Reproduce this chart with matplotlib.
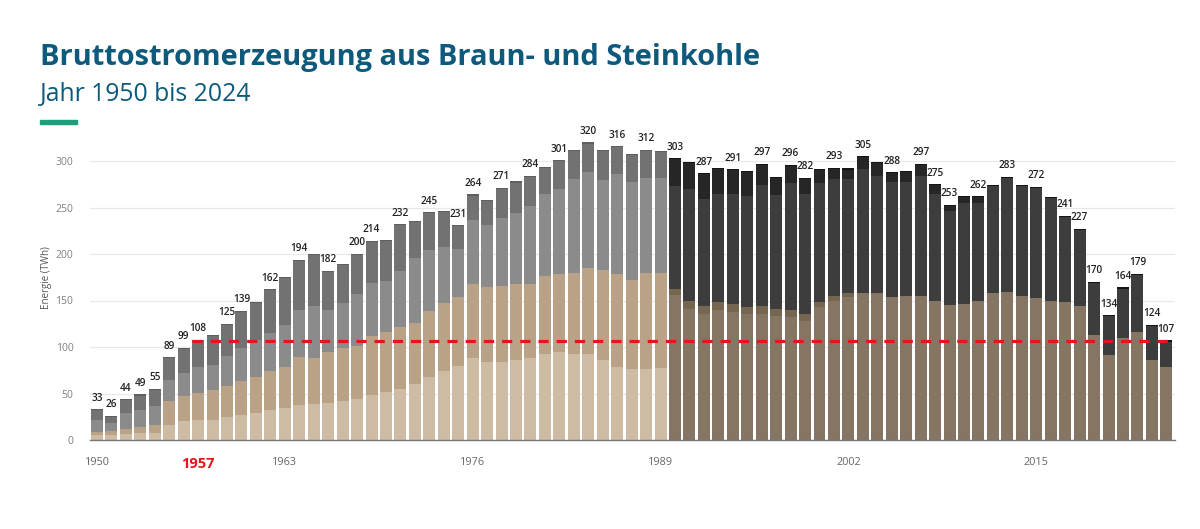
import matplotlib
matplotlib.use("Agg")
import matplotlib.pyplot as plt
import numpy as np

years = list(range(1950, 2025))

# Segment values (TWh), bottom to top
braun_a = [5, 5, 6, 7, 8, 16, 20, 21, 22, 25, 27, 29, 32, 34, 38, 39, 40, 42, 44, 48,
           52, 55, 60, 68, 74, 80, 88, 84, 84, 86, 88, 93, 95, 93, 93, 86, 79, 76, 76, 77,
           156, 141, 136, 140, 138, 135, 136, 133, 132, 128, 143, 150, 154, 158, 158, 154, 155, 155, 150, 145,
           146, 149, 158, 159, 155, 153, 149, 148, 144, 113, 91, 110, 116, 86, 78]
braun_b = [3.5, 5, 6, 7, 8, 26, 27, 30, 32, 33, 36, 39, 42, 45, 51, 49, 55, 57, 57, 64,
           64, 66, 66, 71, 73, 74, 80, 80, 82, 82, 80, 83, 83, 87, 92, 97, 100, 96, 104, 103,
           6, 8, 8, 8, 8, 8, 8, 8, 8, 8, 5, 5, 4, 0, 0, 0, 0, 0, 0, 0,
           0, 0, 0, 0, 0, 0, 0, 0, 0, 0, 0, 0, 0, 0, 0]
stein_c = [13.5, 8, 17, 18, 21, 23, 25, 27, 27, 32, 36, 39, 41, 45, 51, 56, 45, 48, 56, 57,
           55, 61, 70, 65, 61, 51, 69, 67, 73, 76, 84, 88, 92, 101, 103, 97, 107, 105, 102, 102,
           111, 121, 115, 116, 118, 119, 130, 122, 136, 128, 128, 126, 123, 133, 126, 123, 122, 129, 115, 101,
           109, 106, 116, 124, 119, 119, 112, 93, 83, 57, 43, 54, 63, 38, 29]
stein_d = [11, 8, 15, 17, 18, 24, 27, 30, 32, 35, 40, 41, 47, 51, 54, 56, 42, 42, 43, 45,
           44, 50, 40, 41, 38, 26, 27, 27, 32, 34, 32, 30, 31, 31, 32, 32, 30, 31, 30, 29,
           30, 29, 28, 29, 27, 27, 23, 20, 20, 18, 15, 12, 11, 14, 15, 11, 12, 13, 10, 7,
           7, 7, 0, 0, 0, 0, 0, 0, 0, 0, 0, 0, 0, 0, 0]

label_years = [1950, 1951, 1952, 1953, 1954, 1955, 1956, 1957, 1959, 1960, 1962, 1964, 1966,
               1968, 1969, 1971, 1973, 1975, 1976, 1978, 1980, 1982, 1984, 1986, 1988, 1990,
               1992, 1994, 1996, 1998, 1999, 2001, 2003, 2005, 2007, 2008, 2009, 2011, 2013,
               2015, 2017, 2018, 2019, 2020, 2021, 2022, 2023, 2024]
label_values = [33, 26, 44, 49, 55, 89, 99, 108, 125, 139, 162, 194, 182, 200, 214, 232, 245,
                231, 264, 271, 284, 301, 320, 316, 312, 303, 287, 291, 297, 296, 282, 293, 305,
                288, 297, 275, 253, 262, 283, 272, 241, 227, 170, 134, 164, 179, 124, 107]

xtick_years = [1950, 1957, 1963, 1976, 1989, 2002, 2015]
yticks = [0, 50, 100, 150, 200, 250, 300]
reference_level = 106
reference_start = 1957

pre_colors = ['#cdbba4', '#baa286', '#8b8b8b', '#727272']
post_colors = ['#857562', '#76664f', '#3d3d3d', '#262626']

W, H = 1200, 529
fig = plt.figure(figsize=(W / 100, H / 100), dpi=100)
fig.patch.set_facecolor('white')

ymax = 330
ax_bottom_px = 440
ax_top_px = 440 - ymax * 0.93
ax = fig.add_axes([90 / W, 1 - ax_bottom_px / H, 1085 / W, (ax_bottom_px - ax_top_px) / H])

x = np.array(years)
segs = [np.array(braun_a, float), np.array(braun_b, float),
        np.array(stein_c, float), np.array(stein_d, float)]
bottom = np.zeros(len(years))
is_pre = x < 1990
for i, seg in enumerate(segs):
    colors = [pre_colors[i] if p else post_colors[i] for p in is_pre]
    ax.bar(x, seg, bottom=bottom, width=0.83, color=colors, linewidth=0, zorder=2)
    bottom = bottom + seg
totals = bottom

# thin dark cap on each bar
cap_colors = ['#5f5f5f' if p else '#151515' for p in is_pre]
ax.bar(x, 1.2, bottom=totals - 1.2, width=0.83, color=cap_colors, linewidth=0, zorder=3)

for yr, val in zip(label_years, label_values):
    idx = years.index(yr)
    ax.annotate(str(val), (yr, totals[idx]), xytext=(0, 4), textcoords='offset points',
                ha='center', va='bottom', fontsize=7.2, fontweight='semibold',
                color='#222222', family=['Open Sans', 'DejaVu Sans'], zorder=5)

ax.plot([reference_start - 0.42, 2024.45], [reference_level, reference_level],
        color='#e8141c', lw=2.3, dashes=(3.2, 2.5), zorder=4, solid_capstyle='butt')

ax.set_xlim(1949.52, 2024.6)
ax.set_ylim(0, ymax)
ax.set_yticks(yticks)
ax.set_yticklabels([str(v) for v in yticks], fontsize=7.5, color='#808080',
                   family=['Open Sans', 'DejaVu Sans'])
ax.grid(axis='y', color='#e8e8e8', lw=0.9, zorder=0)
ax.set_axisbelow(True)
ax.tick_params(axis='y', length=0, pad=12)
ax.tick_params(axis='x', length=0, pad=12)
ax.set_xticks(xtick_years)
ax.set_xticklabels([str(v) for v in xtick_years], fontsize=7.8, color='#666666',
                   family=['Open Sans', 'DejaVu Sans'])
for lbl in ax.get_xticklabels():
    if lbl.get_text() == '1957':
        lbl.set_color('#e8141c')
        lbl.set_fontweight('bold')
        lbl.set_fontsize(10.5)
for s in ['top', 'right', 'left']:
    ax.spines[s].set_visible(False)
ax.spines['bottom'].set_color('#777777')
ax.spines['bottom'].set_linewidth(1.0)
ax.spines['bottom'].set_zorder(6)

fig.text(47 / W, 1 - 278 / H, 'Energie (TWh)', rotation=90, ha='center', va='center',
         fontsize=7, color='#555555', family=['Open Sans', 'DejaVu Sans'])

fig.text(40 / W, 1 - 65 / H, 'Bruttostromerzeugung aus Braun- und Steinkohle',
         ha='left', va='baseline', fontsize=20.9, fontweight='bold', color='#0e5a7c',
         family=['Open Sans', 'DejaVu Sans'])
fig.text(40 / W, 1 - 101 / H, 'Jahr 1950 bis 2024', ha='left', va='baseline',
         fontsize=17.8, fontweight='normal', color='#0e5a7c', family=['Open Sans', 'DejaVu Sans'])
fig.patches.append(matplotlib.patches.Rectangle((40 / W, 1 - 124 / H), 37 / W, 4.5 / H,
                                                transform=fig.transFigure, color='#1f9e7c'))

fig.savefig('out.png', dpi=100)
